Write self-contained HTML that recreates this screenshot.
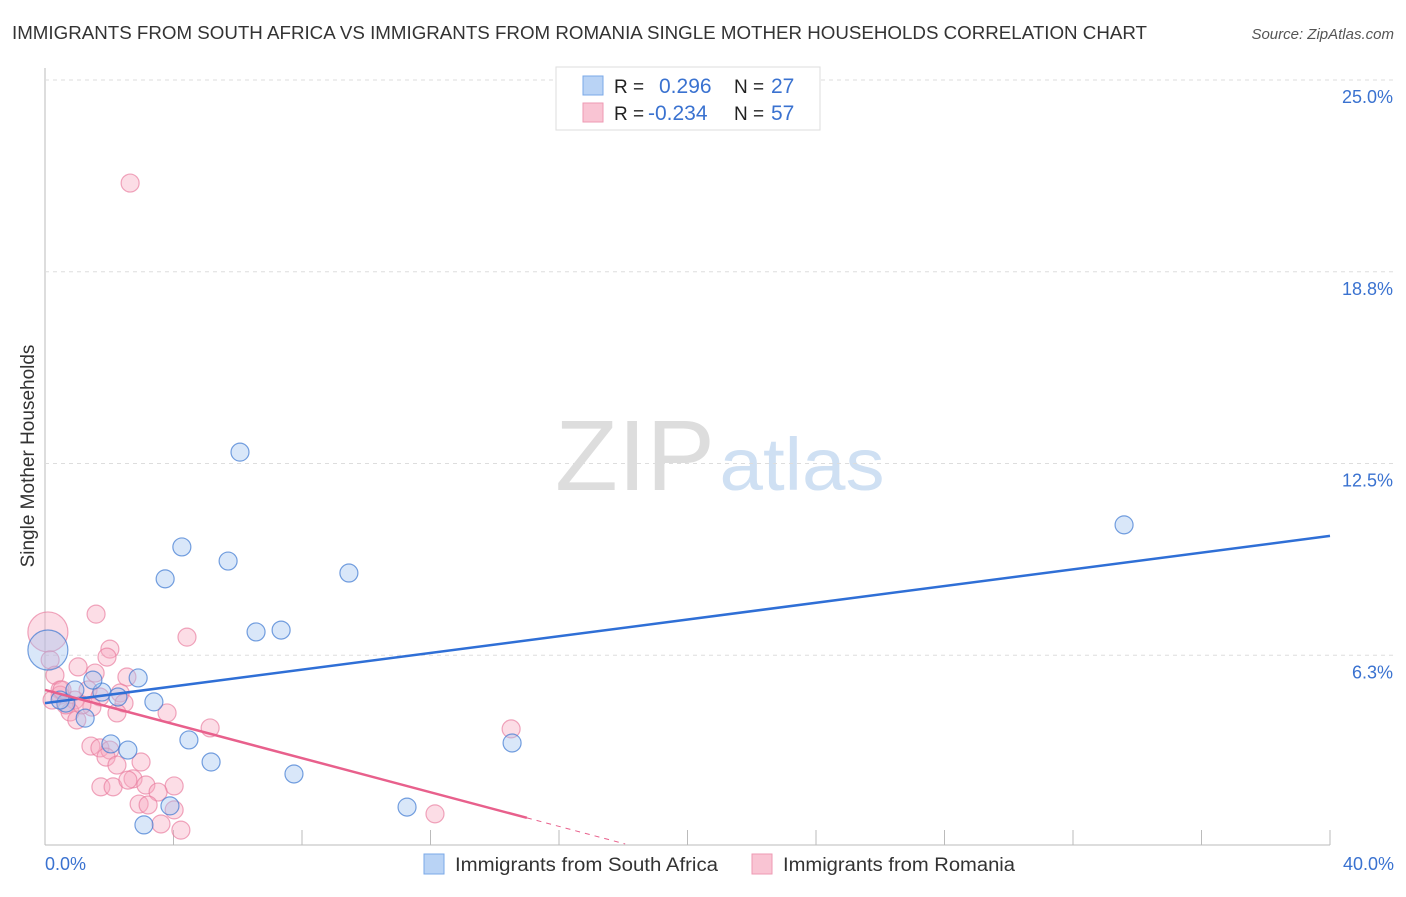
<!DOCTYPE html>
<html><head><meta charset="utf-8"><style>
body{margin:0;background:#fff;font-family:"Liberation Sans",sans-serif;}
svg text{font-family:"Liberation Sans",sans-serif;}
</style></head><body>
<svg id="chart" width="1406" height="892">
<text x="12" y="39" font-size="18" fill="#333" textLength="1135" lengthAdjust="spacingAndGlyphs">IMMIGRANTS FROM SOUTH AFRICA VS IMMIGRANTS FROM ROMANIA SINGLE MOTHER HOUSEHOLDS CORRELATION CHART</text>
<text x="1394" y="39" font-size="15" fill="#555" font-style="italic" text-anchor="end">Source: ZipAtlas.com</text>
<text x="34" y="456" font-size="19" fill="#333" transform="rotate(-90 34 456)" text-anchor="middle">Single Mother Households</text>
<g>
<text x="635" y="490" font-size="100" fill="#ddd" font-family="Liberation Serif,serif" text-anchor="middle" textLength="160" lengthAdjust="spacingAndGlyphs">ZIP</text>
<text x="802" y="490" font-size="74" fill="#cfe0f3" text-anchor="middle" textLength="165" lengthAdjust="spacingAndGlyphs">atlas</text>
</g>
<g id="grid"></g><g id="pts"></g><g id="lines"></g>
<g>
<rect x="556" y="67" width="264" height="63" fill="#fff" stroke="#ddd"/>
<rect x="583" y="76" width="20" height="19" fill="#b9d3f5" stroke="#7aa8e8"/>
<rect x="583" y="103" width="20" height="19" fill="#f9c4d3" stroke="#ee9ab3"/>
<text x="614" y="93" font-size="19" fill="#222">R =</text><text x="659" y="93" font-size="21" fill="#3a72d0">0.296</text>
<text x="734" y="93" font-size="19" fill="#222">N =</text><text x="771" y="93" font-size="21" fill="#3a72d0">27</text>
<text x="614" y="120" font-size="19" fill="#222">R =</text><text x="648" y="120" font-size="21" fill="#3a72d0">-0.234</text>
<text x="734" y="120" font-size="19" fill="#222">N =</text><text x="771" y="120" font-size="21" fill="#3a72d0">57</text>
</g>
<g>
<rect x="424" y="854" width="20" height="20" fill="#b9d3f5" stroke="#7aa8e8"/>
<text x="455" y="871" font-size="19" fill="#333" textLength="263" lengthAdjust="spacingAndGlyphs">Immigrants from South Africa</text>
<rect x="752" y="854" width="20" height="20" fill="#f9c4d3" stroke="#ee9ab3"/>
<text x="783" y="871" font-size="19" fill="#333" textLength="232" lengthAdjust="spacingAndGlyphs">Immigrants from Romania</text>
</g>
</svg>
<script>
const xTicks=[0,4,8,12,16,20,24,28,32,36,40];
const yTicks=[6.3,12.5,18.8,25.0];
const blueX=[6.07,4.26,5.70,3.74,9.46,6.57,7.35,2.90,1.77,3.39,2.27,1.49,0.65,1.25,4.48,2.05,2.58,5.17,7.75,11.27,3.89,3.08,14.54,33.59,0.09,0.47,0.93];
const blueY=[12.87,9.78,9.32,8.74,8.93,7.01,7.07,5.51,5.05,4.73,4.89,5.44,4.69,4.20,3.49,3.36,3.16,2.77,2.38,1.30,1.34,0.72,3.39,10.50,6.42,4.79,5.12];
const pinkX=[2.65,1.59,4.42,2.02,1.93,0.09,0.16,1.56,1.03,0.31,2.55,0.47,1.34,2.34,1.71,0.93,1.46,2.46,0.78,2.24,3.80,0.99,5.14,1.43,1.71,2.02,1.90,2.99,2.24,2.74,3.14,4.02,1.74,2.12,2.58,3.52,2.93,3.21,4.02,3.61,4.23,14.51,12.14,0.47,0.65,0.22,1.15,0.53];
const pinkY=[21.64,7.59,6.84,6.45,6.19,7.01,6.1,5.67,5.87,5.6,5.54,5.12,5.12,5.02,4.89,4.79,4.56,4.69,4.40,4.37,4.37,4.14,3.88,3.29,3.23,3.16,2.93,2.77,2.67,2.22,2.02,1.99,1.96,1.96,2.18,1.79,1.40,1.37,1.21,0.75,0.55,3.85,1.08,4.95,4.63,4.79,4.63,5.12];
const blueTrend=[0,4.69,40,10.14];
const pinkTrend=[0,5.12,15,0.95,18.06,0.10];
const X=v=>45+v/40*1285, Y=v=>847-v*30.68;
const NS="http://www.w3.org/2000/svg";
function mk(p,t,a){const e=document.createElementNS(NS,t);for(const k in a)e.setAttribute(k,a[k]);p.appendChild(e);return e;}
const grid=document.getElementById('grid');
mk(grid,'line',{x1:45,y1:68,x2:45,y2:845,stroke:'#bbb'});
mk(grid,'line',{x1:45,y1:845,x2:1330,y2:845,stroke:'#bbb'});
mk(grid,'line',{x1:45,y1:80,x2:1394,y2:80,stroke:'#ddd','stroke-dasharray':'4,4'});
yTicks.forEach(v=>{const y=Y(v===25?25:v===18.8?18.75:v===12.5?12.5:6.25);
const l=mk(grid,'line',{x1:45,y1:y,x2:1394,y2:y,stroke:'#ddd','stroke-dasharray':'4,4'});


const t=mk(grid,'text',{x:1393,y:y+23,'font-size':18,fill:'#3a72d0','text-anchor':'end'});t.textContent=v.toFixed(1)+'%';

});
xTicks.forEach(v=>{const l=mk(grid,'line',{x1:X(v),y1:830,x2:X(v),y2:845,stroke:'#bbb'});

});
[[0,'start',45],[40,'end',1394]].forEach(([v,a,x])=>{const t=mk(grid,'text',{x:x,y:870,'font-size':18,fill:'#3a72d0','text-anchor':a});t.textContent=v.toFixed(1)+'%';

});
const pts=document.getElementById('pts');
pinkX.forEach((v,i)=>{const c=mk(pts,'circle',{cx:X(v),cy:Y(pinkY[i]),r:i==5?20:9,fill:'rgba(247,170,192,0.4)',stroke:'rgba(232,120,155,0.65)','stroke-width':1.2});

});
blueX.forEach((v,i)=>{const c=mk(pts,'circle',{cx:X(v),cy:Y(blueY[i]),r:i==24?20:9,fill:'rgba(160,196,240,0.4)',stroke:'rgba(60,120,210,0.7)','stroke-width':1.2});

});
const lines=document.getElementById('lines');
let b=mk(lines,'line',{x1:X(blueTrend[0]),y1:Y(blueTrend[1]),x2:X(blueTrend[2]),y2:Y(blueTrend[3]),stroke:'#2f6fd6','stroke-width':2.5});


let p=mk(lines,'line',{x1:X(pinkTrend[0]),y1:Y(pinkTrend[1]),x2:X(pinkTrend[2]),y2:Y(pinkTrend[3]),stroke:'#e8608c','stroke-width':2.5});


let pd=mk(lines,'line',{x1:X(pinkTrend[2]),y1:Y(pinkTrend[3]),x2:X(pinkTrend[4]),y2:Y(pinkTrend[5]),stroke:'#e8608c','stroke-width':1,'stroke-dasharray':'5,5'});


</script>
</body></html>
